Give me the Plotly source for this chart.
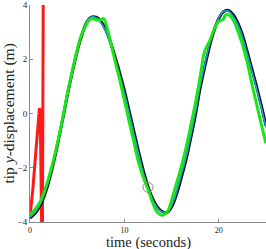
import plotly.graph_objects as go

t_black = [0, 0.5, 1, 1.5, 2, 2.5, 3, 3.5, 4, 4.5, 5, 5.5, 6, 6.5, 7, 7.5, 8, 8.5, 9, 9.5,
           10, 10.5, 11, 11.5, 12, 12.5, 13, 13.5, 14, 14.5, 15, 15.5, 16, 16.5, 17, 17.5,
           18, 18.5, 19, 19.5, 20, 20.5, 21, 21.5, 22, 22.5, 23, 23.5, 24, 24.5, 25]
y_black = [-3.85, -3.7, -3.45, -3.05, -2.5, -1.8, -1.0, -0.15, 0.75, 1.55, 2.3, 2.9, 3.35, 3.55,
           3.55, 3.4, 3.1, 2.65, 2.1, 1.5, 0.85, 0.1, -0.65, -1.4, -2.1, -2.7, -3.15, -3.45,
           -3.62, -3.65, -3.45, -3.0, -2.4, -1.75, -0.95, -0.1, 0.9, 1.7, 2.45, 3.05, 3.5,
           3.75, 3.8, 3.65, 3.35, 2.9, 2.3, 1.65, 1.0, 0.3, -0.45]
t_blue = t_black
y_blue = [-3.82, -3.66, -3.4, -2.98, -2.42, -1.72, -0.92, -0.07, 0.83, 1.62, 2.36, 2.95, 3.38, 3.56,
          3.53, 3.36, 3.05, 2.58, 2.02, 1.42, 0.76, 0.02, -0.74, -1.48, -2.18, -2.76, -3.2, -3.48,
          -3.63, -3.63, -3.4, -2.92, -2.3, -1.65, -0.85, 0.0, 0.98, 1.78, 2.52, 3.1, 3.53,
          3.76, 3.78, 3.6, 3.3, 2.83, 2.22, 1.57, 0.92, 0.22, -0.52]
t_green = [0, 0.5, 1, 1.5, 2, 2.5, 3, 3.5, 4, 4.5, 5, 5.5, 6, 6.3, 6.6, 7, 7.4, 7.8, 8.2, 8.6,
           9, 9.5, 10, 10.5, 11, 11.5, 12, 12.5, 13, 13.5, 14, 14.3, 14.6, 15, 15.5, 16, 16.5,
           17, 17.5, 18, 18.5, 19, 19.5, 20, 20.4, 20.8, 21.2, 21.6, 22, 22.5, 23, 23.5, 24,
           24.5, 25]
y_green = [-3.75, -3.55, -3.3, -2.9, -2.35, -1.7, -0.95, -0.1, 0.8, 1.6, 2.35, 2.95, 3.3, 3.45,
           3.5, 3.45, 3.45, 3.5, 3.1, 2.55, 1.95, 1.25, 0.5, -0.3, -1.05, -1.8, -2.35, -2.8,
           -3.3, -3.65, -3.75, -3.7, -3.6, -3.2, -2.6, -2.0, -1.3, -0.5, 0.35, 1.3, 2.3, 2.65,
           3.1, 3.4, 3.45, 3.65, 3.6, 3.4, 3.05, 2.55, 1.9, 1.1, 0.35, -0.4, -1.1]
t_red = [0, 0.3, 0.6, 0.85, 1.0, 1.08, 1.15, 1.22, 1.3, 1.36, 1.42]
y_red = [-3.8, -2.8, -1.5, -0.3, 0.2, 0.1, -1.5, -4.5, -6.0, 0.0, 6.0]
circle_t = [12.5]
circle_y = [-2.72]
x_ticks = [0, 10, 20]
y_ticks = [-4, -2, 0, 2, 4]
x_title = "time (seconds)"
y_title = "tip <i>y</i>-displacement (m)"

fig = go.Figure()
fig.add_trace(go.Scatter(x=t_red, y=y_red, mode="lines",
                         line=dict(color="#ff1a1a", width=3)))
fig.add_trace(go.Scatter(x=t_black, y=y_black, mode="lines",
                         line=dict(color="#111111", width=3, shape="spline")))
fig.add_trace(go.Scatter(x=t_blue, y=y_blue, mode="lines",
                         line=dict(color="#1f9fe0", width=1.5, shape="spline")))
fig.add_trace(go.Scatter(x=t_green, y=y_green, mode="lines",
                         line=dict(color="#19e619", width=3, shape="spline")))
fig.add_trace(go.Scatter(x=circle_t, y=circle_y, mode="markers",
                         marker=dict(symbol="circle-open", size=10, color="#888888",
                                     line=dict(width=1))))

serif = "Liberation Serif"
fig.update_layout(
    width=266, height=249,
    margin=dict(l=30, r=0, t=5, b=27, autoexpand=False),
    plot_bgcolor="white", paper_bgcolor="white",
    showlegend=False,
    font=dict(family=serif, color="#222222"),
)
fig.update_xaxes(range=[0, 25], tickvals=x_ticks, showgrid=False, zeroline=False,
                 showline=True, linecolor="#8c8c8c", linewidth=1, automargin=False,
                 ticks="inside", ticklen=3, tickcolor="#8c8c8c", ticklabelstandoff=0,
                 tickfont=dict(size=8, family=serif))
fig.update_yaxes(range=[-4, 4], tickvals=y_ticks, showgrid=False, zeroline=False,
                 showline=True, linecolor="#8c8c8c", linewidth=1, automargin=False,
                 ticks="inside", ticklen=3, tickcolor="#8c8c8c", ticklabelstandoff=0,
                 tickfont=dict(size=9, family=serif))
fig.add_annotation(text=x_title, xref="paper", yref="paper", x=0.5, y=0, yshift=-10,
                   yanchor="top", showarrow=False,
                   font=dict(size=14.5, family=serif, color="#222222"))
fig.add_annotation(text=y_title, xref="paper", yref="paper", x=0, xshift=-22, y=0.5,
                   textangle=-90, xanchor="center", showarrow=False,
                   font=dict(size=15.5, family=serif, color="#222222"))
fig.write_html("out.html", config={"displayModeBar": False},
               post_script="document.body.style.margin='0';document.body.style.overflow='hidden';")
